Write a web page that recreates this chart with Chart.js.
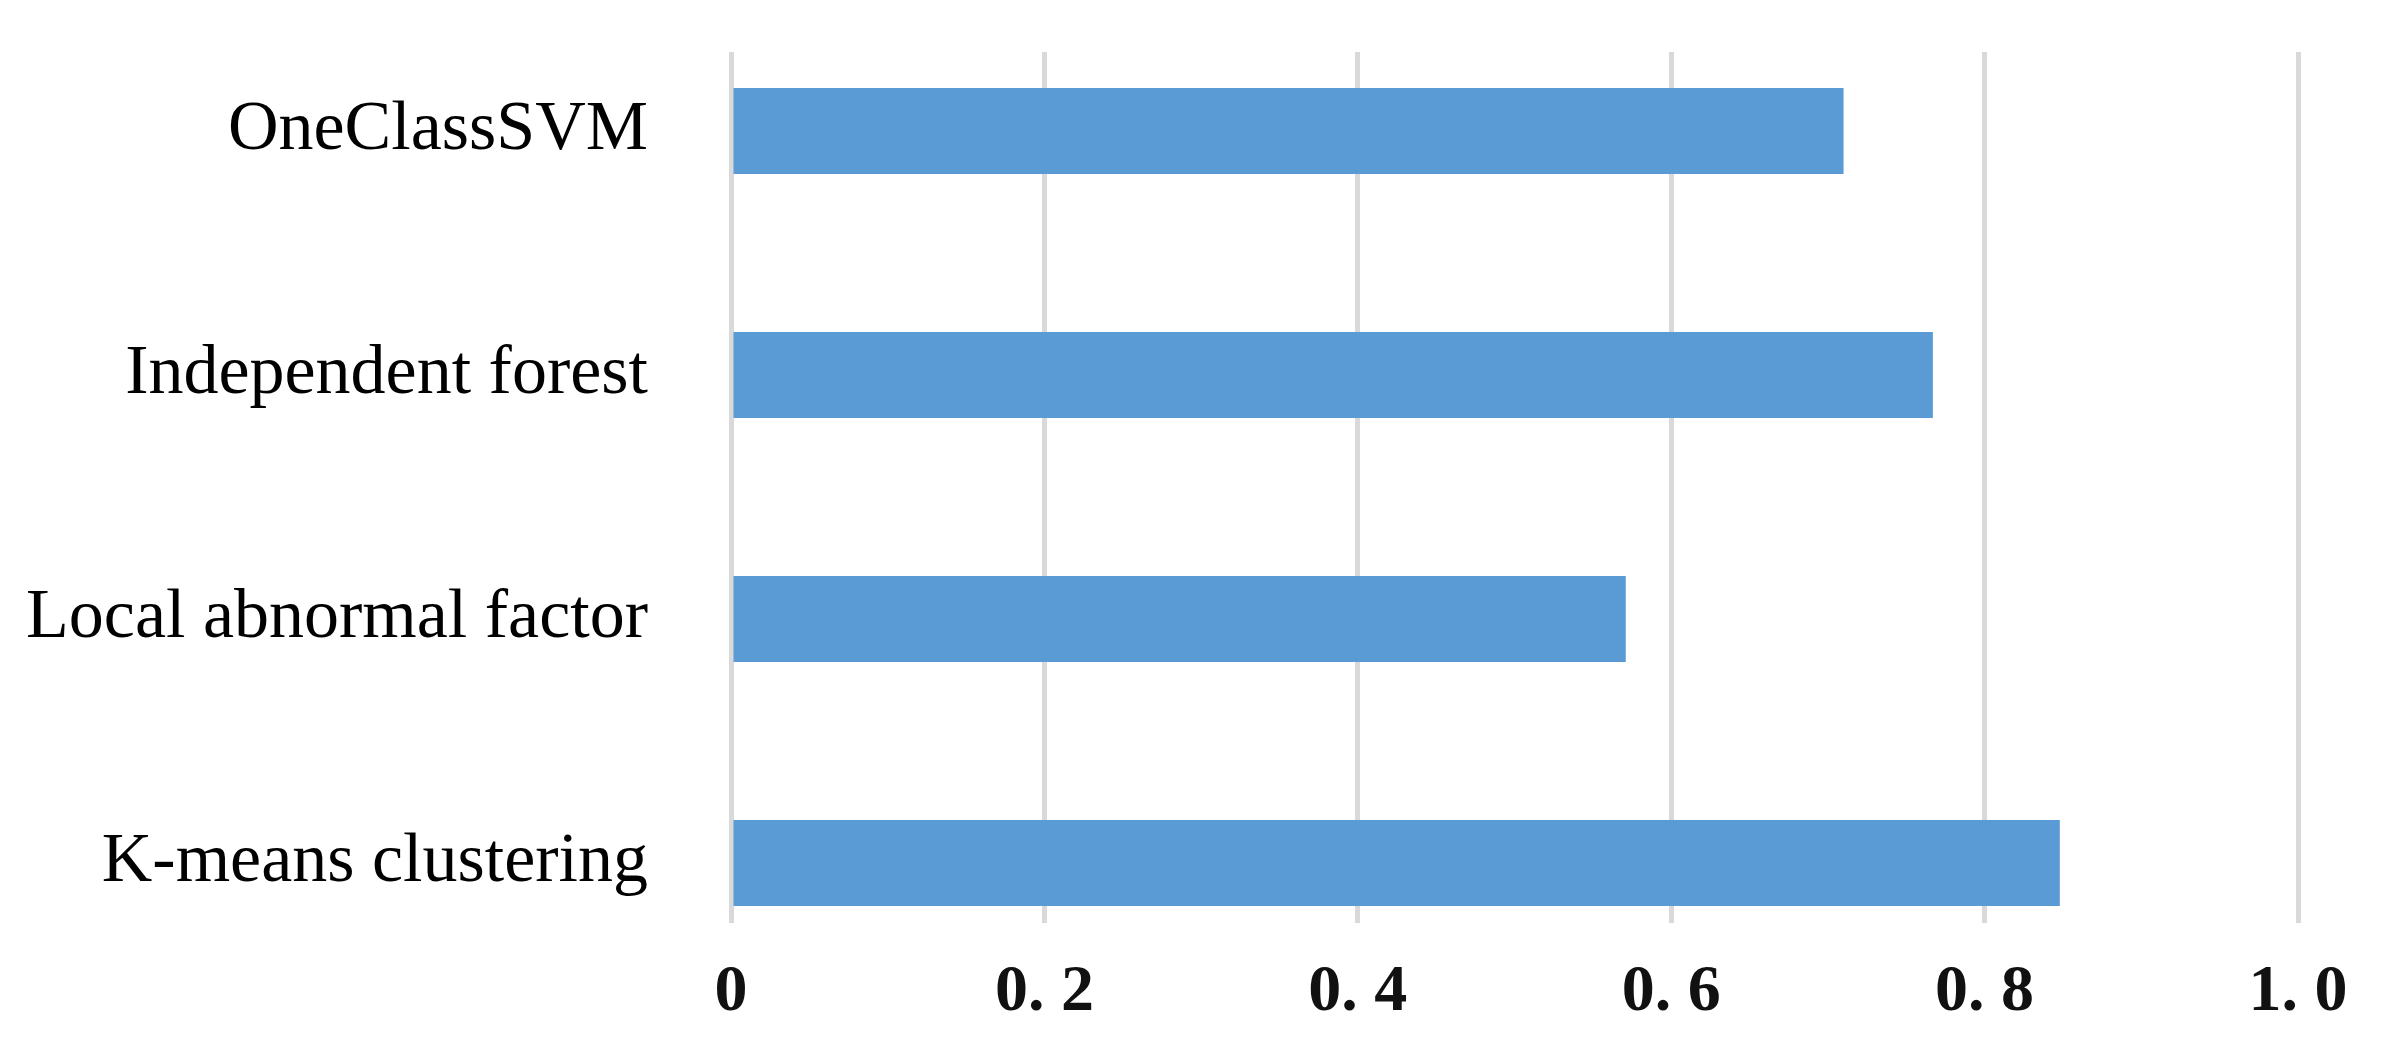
<!DOCTYPE html>
<html>
<head>
<meta charset="utf-8">
<script src="https://cdn.jsdelivr.net/npm/chart.js@4/dist/chart.umd.min.js"></script>
<style>
  html, body { margin: 0; padding: 0; background: #fff; }
  #wrap { width: 2404px; height: 1045px; }
</style>
</head>
<body>
<div id="wrap"><canvas id="myChart" width="2404" height="1045"></canvas></div>
<script>
// categories top to bottom
const metodi = ['OneClassSVM', 'Independent forest', 'Local abnormal factor', 'K-means clustering'];
const valori = [0.71, 0.767, 0.571, 0.848];
const tickX = [0, 0.2, 0.4, 0.6, 0.8, 1.0];
const tickXLabel = ['0', '0. 2', '0. 4', '0. 6', '0. 8', '1. 0'];

const ctx = document.getElementById('myChart').getContext('2d');

const data = {
    datasets: [
        {
            label: 'score',
            data: valori.map((v, i) => ({ x: v, y: i })),
            backgroundColor: '#5B9BD5',
            borderWidth: 0,
            categoryPercentage: 1,
            barPercentage: 0.352
        }
    ]
};

const myChart = new Chart(ctx, {
    type: 'bar',
    data: data,
    options: {
        indexAxis: 'y',
        responsive: false,
        animation: false,
        layout: {
            padding: { top: 52, right: 106, bottom: 0, left: 0 }
        },
        plugins: {
            legend: { display: false },
            tooltip: { enabled: false }
        },
        scales: {
            x: {
                type: 'linear',
                min: 0,
                max: 1,
                afterBuildTicks: s => { s.ticks = tickX.map(v => ({ value: v })) },
                afterFit: s => { s.height = 122; s.paddingLeft = 0; s.paddingRight = 0 },
                grid: { color: '#d9d9d9', lineWidth: 5, drawTicks: false },
                border: { display: false },
                ticks: {
                    padding: 30,
                    color: '#111',
                    font: { family: 'Liberation Serif', size: 66, weight: 'bold' },
                    callback: (v, i) => tickXLabel[i]
                }
            },
            y: {
                type: 'linear',
                reverse: true,
                offset: false,
                bounds: 'data',
                min: -0.324,
                max: 3.246,
                afterBuildTicks: s => { s.ticks = metodi.map((m, i) => ({ value: i })) },
                afterFit: s => { s.width = 731; s.paddingTop = 0; s.paddingBottom = 0 },
                grid: { display: false },
                border: { display: false },
                ticks: {
                    padding: 75,
                    color: '#000',
                    font: { family: 'Liberation Serif', size: 70 },
                    callback: v => metodi[v]
                }
            }
        }
    }
});
</script>
</body>
</html>
